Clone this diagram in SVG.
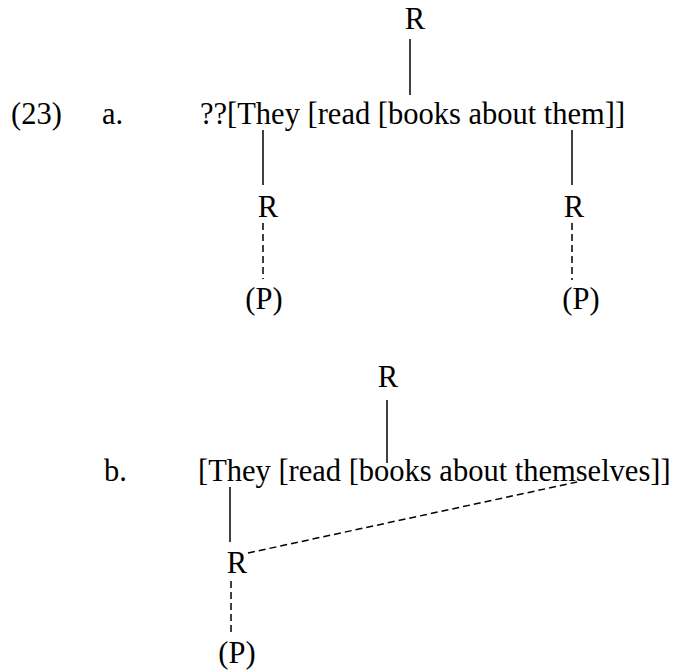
<svg xmlns="http://www.w3.org/2000/svg" width="677" height="671" viewBox="0 0 677 671">
  <style>
    text { font-family: "Liberation Serif", "Times New Roman", serif; font-size: 30.5px; fill: #000; }
    .c { text-anchor: middle; }
    .solid { stroke: #000; stroke-width: 1.5; fill: none; }
    .dash { stroke: #000; stroke-width: 1.5; fill: none; stroke-dasharray: 7 4; }
  </style>
  <rect width="677" height="671" fill="#fff"/>

  <g id="label-23"><text x="11" y="124">(23)</text></g>
  <g id="label-a"><text x="102" y="124">a.</text></g>
  <g id="sentence-a"><text x="200" y="124">??[They [read [books about them]]</text></g>
  <g id="a-R-top"><text class="c" x="415" y="29">R</text></g>
  <g id="a-R-left"><text class="c" x="268" y="217">R</text></g>
  <g id="a-P-left"><text class="c" x="264" y="309">(P)</text></g>
  <g id="a-R-right"><text class="c" x="574" y="217">R</text></g>
  <g id="a-P-right"><text class="c" x="581" y="309">(P)</text></g>

  <g id="label-b"><text x="104" y="481">b.</text></g>
  <g id="sentence-b"><text x="198" y="481">[They [read [books about themselves]]</text></g>
  <g id="b-R-top"><text class="c" x="388" y="387">R</text></g>
  <g id="b-R-left"><text class="c" x="237" y="573">R</text></g>
  <g id="b-P"><text class="c" x="237" y="663">(P)</text></g>

  <g id="connectors">
    <line class="solid" x1="410" y1="39" x2="410" y2="95"/>
    <line class="solid" x1="263" y1="130" x2="263" y2="185"/>
    <line class="dash" x1="263" y1="223" x2="263" y2="279"/>
    <line class="solid" x1="572" y1="130" x2="572" y2="185"/>
    <line class="dash" x1="572" y1="223" x2="572" y2="280"/>

    <line class="solid" x1="387" y1="400" x2="387" y2="463"/>
    <line class="solid" x1="230" y1="487" x2="230" y2="542"/>
    <line class="dash" x1="248" y1="553" x2="577" y2="482"/>
    <line class="dash" x1="231" y1="581" x2="231" y2="636"/>
  </g>
</svg>
